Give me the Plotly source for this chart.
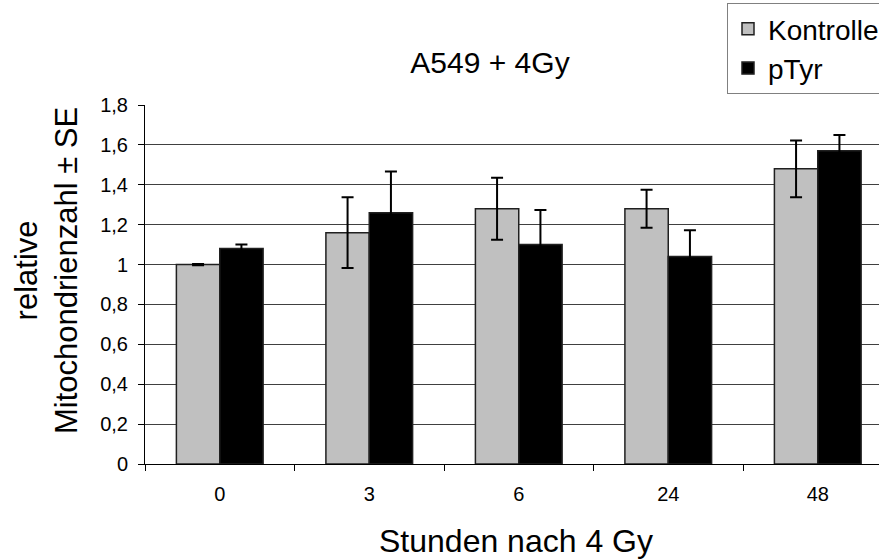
import plotly.graph_objects as go

categories = ["0", "3", "6", "24", "48"]
kontrolle = [1.00, 1.16, 1.28, 1.28, 1.48]
kontrolle_se = [0.003, 0.177, 0.155, 0.095, 0.142]
ptyr = [1.08, 1.26, 1.10, 1.04, 1.57]
ptyr_se = [0.02, 0.207, 0.173, 0.132, 0.08]
y_ticks = [0, 0.2, 0.4, 0.6, 0.8, 1.0, 1.2, 1.4, 1.6, 1.8]

FONT = "Arial, Liberation Sans, sans-serif"
W, H = 879, 560
L, R, T, B = 145, 0, 105, 96

fig = go.Figure()
fig.add_trace(go.Bar(
    x=categories, y=kontrolle, name="Kontrolle",
    marker=dict(color="#C0C0C0", line=dict(color="#202020", width=1.5)),
    error_y=dict(type="data", array=kontrolle_se, visible=True,
                 color="#000000", thickness=2, width=6),
))
fig.add_trace(go.Bar(
    x=categories, y=ptyr, name="pTyr",
    marker=dict(color="#000000", line=dict(color="#202020", width=1.5)),
    error_y=dict(type="data", array=ptyr_se, visible=True,
                 color="#000000", thickness=2, width=6),
))

plot_w = W - L - R
plot_h = H - T - B

fig.update_layout(
    width=W, height=H,
    paper_bgcolor="white", plot_bgcolor="white",
    separators=",.",
    barmode="group", bargap=0.42, bargroupgap=0,
    margin=dict(l=L, r=R, t=T, b=B, autoexpand=False),
    font=dict(family=FONT, color="black"),
    title=dict(text="A549 + 4Gy", font=dict(size=30, family=FONT, color="black"),
               x=490/W, xanchor="center", xref="container",
               y=1-62/H, yanchor="middle", yref="container"),
    legend=dict(
        x=(727-L)/plot_w, y=(H-B-3)/plot_h, xref="paper", yref="paper",
        xanchor="left", yanchor="top",
        bordercolor="#808080", borderwidth=1, bgcolor="white",
        font=dict(size=28, family=FONT, color="black"),
        itemwidth=30,
    ),
    showlegend=True,
    annotations=[
        dict(text="Stunden nach 4 Gy", xref="paper", yref="paper",
             x=(516-L)/plot_w, y=-(541-(H-B))/plot_h,
             xanchor="center", yanchor="middle", showarrow=False,
             font=dict(size=32, family=FONT, color="black")),
        dict(text="relative<br>Mitochondrienzahl ± SE", xref="paper", yref="paper",
             x=-(L-46)/plot_w, y=((H-B)-271)/plot_h, textangle=-90,
             xanchor="center", yanchor="middle", showarrow=False,
             font=dict(size=31, family=FONT, color="black")),
    ],
)

fig.update_xaxes(
    type="category", range=[-0.5, -0.5 + plot_w/149.5],
    automargin=False,
    showline=True, linecolor="black", linewidth=1,
    ticks="outside", tickson="boundaries", ticklen=6, tickcolor="black",
    tickfont=dict(size=20, family=FONT, color="black"),
    ticklabelstandoff=12,
    showgrid=False,
)
fig.update_yaxes(
    range=[0, 1.8], tickvals=y_ticks,
    automargin=False,
    showline=True, linecolor="black", linewidth=1,
    ticks="outside", ticklen=6, tickcolor="black",
    tickfont=dict(size=20, family=FONT, color="black"),
    ticklabelstandoff=6,
    showgrid=True, gridcolor="#404040", gridwidth=1,
    zeroline=False,
)

fig.write_html("out.html", config={"displayModeBar": False},
               post_script="document.body.style.margin='0px';")
